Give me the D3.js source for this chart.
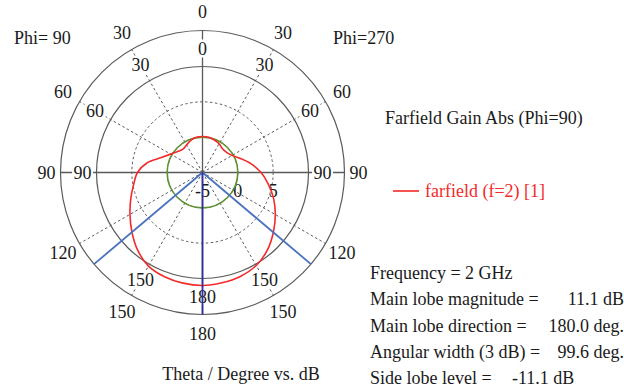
<!DOCTYPE html>
<html>
<head>
<meta charset="utf-8">
<script src="https://cdn.jsdelivr.net/npm/d3@7"></script>
<style>
  html, body { margin: 0; padding: 0; background: #fff; }
  svg { display: block; font-family: "Liberation Serif", "Times New Roman", serif; }
  text { white-space: pre; }
</style>
</head>
<body>
<svg id="chart" width="624" height="387"></svg>
<script>
// theta in degrees, gain in dB for both half planes
const thetaDeg = [0, 10, 20, 30, 40, 50, 60, 70, 80, 90, 100, 110, 120, 130, 140, 150, 160, 170, 180];
const gainPhi90 = [0.1, 0.05, -0.15, -0.5, -0.7, -0.4, 0.2, 1.2, 2.95, 4.2, 4.9, 5.8, 6.85, 8.05, 9.3, 10.3, 10.7, 10.9, 11.0];
const gainPhi270 = [0.1, 0.07, -0.1, -0.3, -0.6, -0.55, -0.15, 0.75, 2.0, 3.3, 4.45, 5.7, 6.9, 8.1, 9.3, 10.2, 10.65, 10.85, 11.0];

const outerTicks = [0, 30, 60, 90, 120, 150, 180];
const innerTicks = [0, 30, 60, 90, 150, 180];
const gridAngles = [0, 30, 60, 90, 120, 150, 180, 210, 240, 270, 300, 330];
const dbTicks = [-5, 0, 5];
const dbRings = [0, 5];

const mainLobeDir = 180.0;
const angularWidth = 99.6;
const mainLobeMag = 11.1;
const sideLobeLevel = -11.1;

const infoLabels = ["Frequency = 2 GHz", "Main lobe magnitude =", "Main lobe direction =", "Angular width (3 dB) =", "Side lobe level ="];
const infoValues = ["", "11.1 dB", "180.0 deg.", "99.6 deg.", "-11.1 dB"];

function main() {
  const svg = d3.select("#chart");
  const cx = 202.5, cy = 172.5;
  const rInner = 106, rOuter = 142;
  const gray = "#5a5a5a";

  const r = d3.scaleLinear().domain([-5, 10]).range([0, rInner]);
  const rad = (deg) => deg * Math.PI / 180;
  const pt = (deg, radius) => [cx + radius * Math.sin(rad(deg)), cy - radius * Math.cos(rad(deg))];

  const g = svg.append("g");

  // radial grid lines
  gridAngles.forEach((a) => {
    const solid = a % 90 === 0;
    const p = pt(a, rOuter);
    g.append("line")
      .attr("x1", cx).attr("y1", cy).attr("x2", p[0]).attr("y2", p[1])
      .attr("stroke", gray)
      .attr("stroke-width", solid ? 1.3 : 1)
      .attr("stroke-dasharray", solid ? null : "2.5,2.5");
  });

  // dB rings
  dbRings.forEach((v) => {
    g.append("circle").attr("cx", cx).attr("cy", cy).attr("r", r(v))
      .attr("fill", "none").attr("stroke", gray).attr("stroke-width", 1)
      .attr("stroke-dasharray", "2.5,2.5");
  });
  g.append("circle").attr("cx", cx).attr("cy", cy).attr("r", rInner)
    .attr("fill", "none").attr("stroke", gray).attr("stroke-width", 1.2);
  g.append("circle").attr("cx", cx).attr("cy", cy).attr("r", rOuter)
    .attr("fill", "none").attr("stroke", gray).attr("stroke-width", 1.2);

  // inner theta labels with white boxes
  const inner = [];
  innerTicks.forEach((t) => {
    inner.push(t);
    if (t !== 0 && t !== 180) inner.push(-t);
  });
  inner.forEach((t) => {
    const lr = Math.abs(t) === 90 ? 120 : 124;
    const p = pt(-t, lr);
    const lg = g.append("g");
    const txt = lg.append("text")
      .attr("x", p[0]).attr("y", p[1])
      .attr("text-anchor", "middle").attr("dominant-baseline", "central")
      .attr("font-size", 18).attr("fill", "#1a1a1a")
      .text(Math.abs(t));
    const bb = txt.node().getBBox();
    lg.insert("rect", "text")
      .attr("x", bb.x - 1.5).attr("y", bb.y + 1)
      .attr("width", bb.width + 3).attr("height", bb.height - 2)
      .attr("fill", "#fff");
  });

  // outer theta labels
  const outer = [];
  outerTicks.forEach((t) => {
    outer.push(t);
    if (t !== 0 && t !== 180) outer.push(-t);
  });
  outer.forEach((t) => {
    const lr = Math.abs(t) === 90 ? 156 : 161;
    const p = pt(-t, lr);
    g.append("text")
      .attr("x", p[0]).attr("y", p[1])
      .attr("text-anchor", "middle").attr("dominant-baseline", "central")
      .attr("font-size", 18).attr("fill", "#1a1a1a")
      .text(Math.abs(t));
  });

  // dB labels
  dbTicks.forEach((v) => {
    g.append("text")
      .attr("x", cx + r(v)).attr("y", cy + 18)
      .attr("text-anchor", "middle").attr("dominant-baseline", "central")
      .attr("font-size", 18).attr("fill", "#1a1a1a")
      .text(v);
  });

  // side lobe level circle
  g.append("circle").attr("cx", cx).attr("cy", cy)
    .attr("r", r(mainLobeMag + sideLobeLevel))
    .attr("fill", "none").attr("stroke", "#5f9132").attr("stroke-width", 1.6);

  // farfield curve: Phi=270 on the right (clockwise), Phi=90 on the left
  const pts = [];
  thetaDeg.forEach((t, i) => pts.push([rad(t), r(gainPhi270[i])]));
  for (let i = thetaDeg.length - 2; i >= 1; i--) {
    pts.push([rad(360 - thetaDeg[i]), r(gainPhi90[i])]);
  }
  const line = d3.lineRadial()
    .angle((d) => d[0]).radius((d) => d[1])
    .curve(d3.curveCatmullRomClosed.alpha(0.5));
  g.append("path")
    .attr("transform", `translate(${cx},${cy})`)
    .attr("d", line(pts))
    .attr("fill", "none").attr("stroke", "#f42a2a").attr("stroke-width", 1.6);

  // 3 dB beam width lines and main lobe direction
  [mainLobeDir - angularWidth / 2, mainLobeDir + angularWidth / 2].forEach((a) => {
    const p = pt(a, rOuter);
    g.append("line")
      .attr("x1", cx).attr("y1", cy).attr("x2", p[0]).attr("y2", p[1])
      .attr("stroke", "#4a72c0").attr("stroke-width", 1.8);
  });
  const pm = pt(mainLobeDir, rOuter);
  g.append("line")
    .attr("x1", cx).attr("y1", cy).attr("x2", pm[0]).attr("y2", pm[1])
    .attr("stroke", "#2e2e9e").attr("stroke-width", 1.8);

  // texts
  const txt = (x, y, s, opts = {}) => svg.append("text")
    .attr("x", x).attr("y", y)
    .attr("font-size", opts.size || 18)
    .attr("fill", opts.fill || "#1a1a1a")
    .attr("text-anchor", opts.anchor || "start")
    .text(s);

  txt(14, 44, "Phi= 90");
  txt(333, 44, "Phi=270");
  txt(385, 124, "Farfield Gain Abs (Phi=90)");
  txt(241, 380, "Theta / Degree vs. dB", {anchor: "middle"});

  svg.append("line")
    .attr("x1", 393).attr("x2", 419).attr("y1", 191).attr("y2", 191)
    .attr("stroke", "#f42a2a").attr("stroke-width", 1.6);
  txt(425, 197, "farfield (f=2) [1]", {fill: "#f42a2a"});

  infoLabels.forEach((l, i) => {
    const y = 279 + i * 26.3;
    txt(370, y, l);
    if (!infoValues[i]) return;
    if (i === infoLabels.length - 1) txt(512, y, infoValues[i]);
    else txt(624, y, infoValues[i], {anchor: "end"});
  });
}

main();
</script>
</body>
</html>
